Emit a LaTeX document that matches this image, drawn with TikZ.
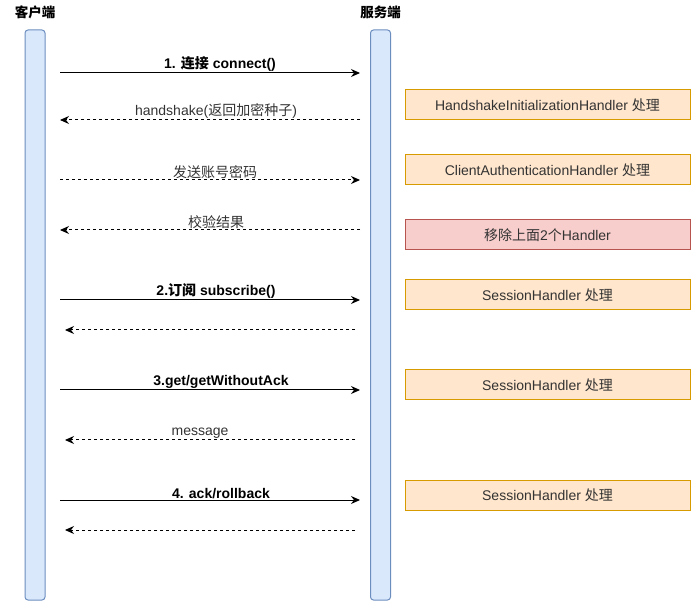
\documentclass[tikz,border=0pt]{standalone}
\usepackage{fontspec}
\setmainfont{Liberation Sans}
\newfontfamily\cjk{Noto Sans CJK SC}
\usepackage{xcolor}
\usepackage{tikz}
\usetikzlibrary{arrows.meta,positioning,calc}

\definecolor{lifefill}{HTML}{DAE8FC}
\definecolor{lifeline}{HTML}{6C8EBF}
\definecolor{procfill}{HTML}{FFE6CC}
\definecolor{procline}{HTML}{D79B00}
\definecolor{warnfill}{HTML}{F8CECC}
\definecolor{warnline}{HTML}{B85450}
\definecolor{txt}{HTML}{333333}

\begin{document}
\begin{tikzpicture}[
  x=1pt, y=-1pt,
  every node/.style={font=\fontsize{14}{16}\selectfont, text=txt},
  lifebar/.style={draw=lifeline, fill=lifefill, line width=1pt, rounded corners=3pt, minimum width=20pt, minimum height=570pt, inner sep=0pt},
  actor/.style={font=\fontsize{13.5}{15}\selectfont\bfseries\cjk, text=black},
  proc/.style={draw=procline, fill=procfill, line width=1pt, minimum width=285pt, minimum height=30pt, inner sep=0pt},
  warn/.style={proc, draw=warnline, fill=warnfill},
  call/.style={-{Stealth[length=9pt, width=8pt, inset=3pt]}, line width=1pt, black},
  reply/.style={call, dash pattern=on 3pt off 3pt},
  msg/.style={above=0pt, inner sep=1pt, text=black, font=\fontsize{14}{16}\selectfont\bfseries},
  ret/.style={above=0pt, inner sep=1pt}
]
\useasboundingbox (0,0) rectangle (691,601);

% Lifelines
\node[actor] (clientTitle) at (35,12) {客户端};
\node[actor] (serverTitle) at (380.5,12) {服务端};
\node[lifebar] (client) at (35,315) {};
\node[lifebar] (server) at (380.5,315) {};

% Message end points
\coordinate (c1) at (60,73);   \coordinate (s1) at (360,73);
\coordinate (c2) at (60,120);  \coordinate (s2) at (360,120);
\coordinate (c3) at (60,180);  \coordinate (s3) at (360,180);
\coordinate (c4) at (60,230);  \coordinate (s4) at (360,230);
\coordinate (c5) at (60,300);  \coordinate (s5) at (360,300);
\coordinate (c6) at (65,330);  \coordinate (s6) at (355,330);
\coordinate (c7) at (60,390);  \coordinate (s7) at (360,390);
\coordinate (c8) at (65,440);  \coordinate (s8) at (355,440);
\coordinate (c9) at (60,500);  \coordinate (s9) at (360,500);
\coordinate (c10) at (65,530); \coordinate (s10) at (355,530);

% Messages
\draw[call] (c1) -- node[msg, xshift=10pt] {1. {\cjk 连接} connect()} (s1);
\draw[reply] (s2) -- node[ret, xshift=6pt] {handshake({\cjk 返回加密种子})} (c2);
\draw[reply] (c3) -- node[ret, xshift=5pt] {\cjk 发送账号密码} (s3);
\draw[reply] (s4) -- node[ret, xshift=6pt] {\cjk 校验结果} (c4);
\draw[call] (c5) -- node[msg, xshift=6pt] {2.{\cjk 订阅} subscribe()} (s5);
\draw[reply] (s6) -- (c6);
\draw[call] (c7) -- node[msg, xshift=11pt] {3.get/getWithoutAck} (s7);
\draw[reply] (s8) -- node[ret, xshift=-10pt] {message} (c8);
\draw[call] (c9) -- node[msg, xshift=11pt] {4. ack/rollback} (s9);
\draw[reply] (s10) -- (c10);

% Server side handlers
\node[proc] (hsInit) at (547.5,105) {HandshakeInitializationHandler {\cjk 处理}};
\node[proc] (clientAuth) at (547.5,170) {ClientAuthenticationHandler {\cjk 处理}};
\node[warn] (removeH) at (547.5,235) {{\cjk 移除上面}2{\cjk 个}Handler};
\node[proc] (sess1) at (547.5,295) {SessionHandler {\cjk 处理}};
\node[proc] (sess2) at (547.5,385) {SessionHandler {\cjk 处理}};
\node[proc] (sess3) at (547.5,495) {SessionHandler {\cjk 处理}};

\end{tikzpicture}
\end{document}
